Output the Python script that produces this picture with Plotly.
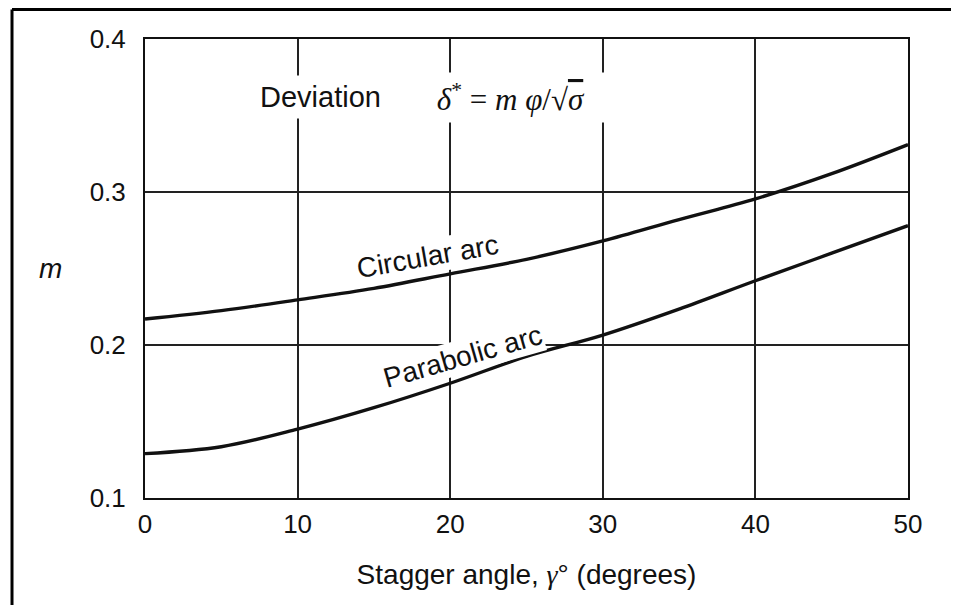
import plotly.graph_objects as go

# ---- data ----
stagger = [0, 5, 10, 15, 20, 25, 30, 35, 40, 45, 50]
circular_arc = [0.217, 0.2225, 0.2295, 0.237, 0.2465, 0.256, 0.268, 0.282, 0.2955, 0.312, 0.331]
parabolic_arc = [0.129, 0.1335, 0.145, 0.159, 0.175, 0.1925, 0.2065, 0.2235, 0.242, 0.260, 0.278]
x_ticks = [0, 10, 20, 30, 40, 50]
y_ticks = [0.1, 0.2, 0.3, 0.4]
y_tick_text = ["0.1", "0.2", "0.3", "0.4"]

SANS = "Liberation Sans, Arial, sans-serif"
SERIF = "Liberation Serif, Times New Roman, serif"
INK = "#111111"

fig = go.Figure()
for name, vals in [("Circular arc", circular_arc), ("Parabolic arc", parabolic_arc)]:
    fig.add_trace(go.Scatter(
        x=stagger, y=vals, mode="lines", name=name,
        line=dict(color=INK, width=3.4, shape="spline", smoothing=1.0),
        hoverinfo="x+y+name", showlegend=False,
    ))

fig.update_layout(
    width=959, height=605,
    margin=dict(l=137, r=59, t=31, b=115),
    paper_bgcolor="white", plot_bgcolor="white",
    font=dict(family=SANS, color=INK, size=24),
    xaxis=dict(
        range=[0, 50], tickvals=x_ticks, ticks="", ticklabelstandoff=2,
        showline=True, mirror=True, linecolor=INK, linewidth=2,
        showgrid=True, gridcolor="#222222", gridwidth=1.5, zeroline=False,
        tickfont=dict(size=26), automargin=False,
        title=dict(text="Stagger angle, <span style='font-family:Liberation Serif'><i>γ</i></span>° (degrees)",
                   font=dict(size=28), standoff=26),
    ),
    yaxis=dict(
        range=[0.1, 0.4], tickvals=y_ticks, ticktext=y_tick_text, ticks="",
        ticklabelstandoff=12, automargin=False,
        showline=True, mirror=True, linecolor=INK, linewidth=2,
        showgrid=True, gridcolor="#222222", gridwidth=1.5, zeroline=False,
        tickfont=dict(size=26),
    ),
)

# y-axis title drawn horizontally, as in the reference
fig.add_annotation(x=-0.142, y=0.5, xref="paper", yref="paper", text="<i>m</i>",
                   showarrow=False, font=dict(family=SANS, size=28, color=INK))

# annotations (text labels with white background to break the grid lines)
fig.add_annotation(x=11.5, y=0.362, xref="x", yref="y", text="Deviation",
                   showarrow=False, font=dict(family=SANS, size=29, color=INK),
                   bgcolor="white", borderpad=5)
fig.add_annotation(x=18.2, y=0.362, xref="x", yref="y", xanchor="left",
                   text="&nbsp;<i>δ</i><sup>*</sup> = <i>m φ</i>/√<span style='text-decoration:overline'><i>σ</i></span>&nbsp;&nbsp;&nbsp;",
                   showarrow=False, font=dict(family=SERIF, size=31, color=INK),
                   bgcolor="white", borderpad=5)
fig.add_annotation(x=18.5, y=0.258, xref="x", yref="y", text="Circular arc",
                   textangle=-10, showarrow=False,
                   font=dict(family=SANS, size=28, color=INK), bgcolor="white", borderpad=1)
fig.add_annotation(x=20.8, y=0.1925, xref="x", yref="y", text="Parabolic arc",
                   textangle=-16, showarrow=False,
                   font=dict(family=SANS, size=28, color=INK), bgcolor="white", borderpad=1)

# scanned page border (top and left edges)
fig.add_shape(type="line", xref="paper", yref="paper", x0=-0.1743, x1=1.08, y0=1.0643, y1=1.0643,
              line=dict(color="black", width=3))
fig.add_shape(type="line", xref="paper", yref="paper", x0=-0.1743, x1=-0.1743, y0=-0.26, y1=1.0643,
              line=dict(color="black", width=3))

fig.write_html("out.html")
